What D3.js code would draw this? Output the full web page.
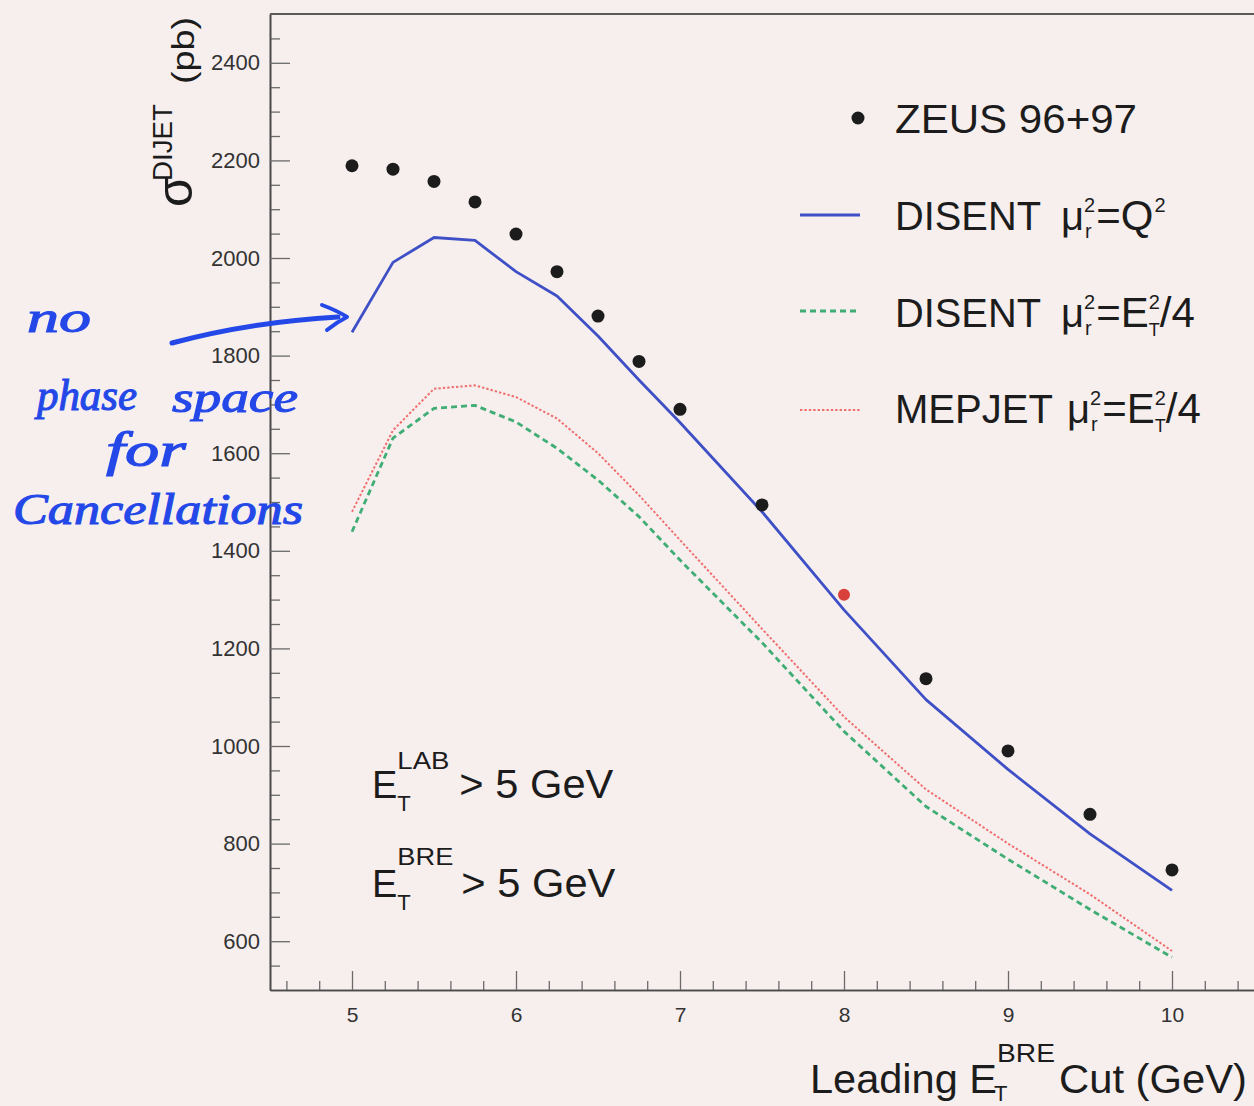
<!DOCTYPE html>
<html>
<head>
<meta charset="utf-8">
<script src="https://cdn.jsdelivr.net/npm/d3@7"></script>
<style>
  html, body { margin: 0; padding: 0; background: #f7efee; }
  svg { display: block; }
</style>
</head>
<body>
<script>
// ---------------- data ----------------
const etCuts    = [5, 5.25, 5.5, 5.75, 6, 6.25, 6.5, 6.75, 7, 7.5, 8, 8.5, 9, 9.5, 10];
const zeus9697  = [2189, 2182, 2157, 2115, 2049, 1972, 1881, 1788, 1690, 1494, 1310, 1138, 990, 860, 746];
const disentQ2  = [1848, 1991, 2042, 2036, 1972, 1922, 1840, 1750, 1663, 1480, 1279, 1095, 952, 820, 704];
const disentEt4 = [1439, 1631, 1692, 1698, 1664, 1610, 1545, 1470, 1381, 1212, 1030, 876, 768, 665, 567];
const mepjetEt4 = [1480, 1647, 1732, 1739, 1715, 1671, 1600, 1514, 1422, 1240, 1060, 911, 800, 696, 580];
const highlightCut = 8;
const xMajorTicks = [5, 6, 7, 8, 9, 10];
const yMajorTicks = [600, 800, 1000, 1200, 1400, 1600, 1800, 2000, 2200, 2400];

const SANS = "'Liberation Sans', Arial, Helvetica, sans-serif";
const W = 1254, H = 1106;
const svg = d3.select("body").append("svg").attr("width", W).attr("height", H)
  .style("font-family", SANS);
svg.append("rect").attr("width", W).attr("height", H).attr("fill", "#f7efee");

const x = d3.scaleLinear().domain([4.5, 10.5]).range([270, 1254]);
const y = d3.scaleLinear().domain([500, 2500]).range([990, 14]);

// ---------------- axes ----------------
const axisColor = "#4a4a4a";
const xMinor = d3.range(4.6, 10.5, 0.2).filter(v => Math.abs(v - Math.round(v)) > 0.01);
const yMinor = d3.range(550, 2500, 50).filter(v => v % 200 !== 0);
const fmt = d3.format("d");

const gxMinor = svg.append("g").attr("transform", "translate(0,990)")
  .call(d3.axisBottom(x).tickValues(xMinor).tickSize(-9).tickSizeOuter(0).tickFormat(""));
const gx = svg.append("g").attr("transform", "translate(0,990)")
  .call(d3.axisBottom(x).tickValues(xMajorTicks).tickFormat(fmt).tickSize(-19).tickSizeOuter(0).tickPadding(14));
gx.selectAll("text").attr("font-size", 21).attr("fill", "#333").attr("dy", "0.85em");

const gyMinor = svg.append("g").attr("transform", "translate(270,0)")
  .call(d3.axisLeft(y).tickValues(yMinor).tickSize(-10).tickSizeOuter(0).tickFormat(""));
const gy = svg.append("g").attr("transform", "translate(270,0)")
  .call(d3.axisLeft(y).tickValues(yMajorTicks).tickFormat(fmt).tickSize(-20).tickSizeOuter(0).tickPadding(10));
gy.selectAll("text").attr("font-size", 22).attr("fill", "#333");

[gx, gxMinor, gy, gyMinor].forEach(g => {
  g.attr("font-family", null);
  g.selectAll("path.domain").attr("stroke", axisColor).attr("stroke-width", 1.6);
  g.selectAll(".tick line").attr("stroke", "#6a6a6a").attr("stroke-width", 1.3);
});
svg.append("line").attr("x1", x(4.5)).attr("x2", x(10.5)).attr("y1", y(2500)).attr("y2", y(2500))
  .attr("stroke", "#5a5a5a").attr("stroke-width", 2);

// ---------------- curves ----------------
const styles = {
  q2:  { color: "#3f50c6", width: 2.8, dash: null },
  et:  { color: "#3fad74", width: 2.8, dash: "6,4" },
  mep: { color: "#ef6f6f", width: 2.0, dash: "2.4,2" }
};
const line = d3.line().x((d, i) => x(etCuts[i])).y(d => y(d)).curve(d3.curveLinear);
function drawCurve(vals, st) {
  svg.append("path").datum(vals).attr("d", line)
    .attr("fill", "none").attr("stroke", st.color).attr("stroke-width", st.width)
    .attr("stroke-dasharray", st.dash).attr("stroke-linejoin", "round");
}
drawCurve(mepjetEt4, styles.mep);
drawCurve(disentEt4, styles.et);
drawCurve(disentQ2, styles.q2);

svg.append("g").selectAll("circle").data(zeus9697).join("circle")
  .attr("cx", (d, i) => x(etCuts[i])).attr("cy", d => y(d))
  .attr("r", (d, i) => etCuts[i] === highlightCut ? 6 : 6.5)
  .attr("fill", (d, i) => etCuts[i] === highlightCut ? "#d8403c" : "#1c1c1c");

// ---------------- rich text helper ----------------
// parts: {t, fs, dy, stack, w (textLength), gap (dx before)}
function rich(x0, y0, parts, color) {
  const g = svg.append("g");
  let cx = x0, prevX = x0;
  parts.forEach(p => {
    const px = p.stack ? prevX + (p.sx || 0) : cx + (p.gap || 0);
    const t = g.append("text").attr("x", px).attr("y", y0 + (p.dy || 0))
      .attr("font-size", p.fs).attr("fill", color || "#1c1c1c").text(p.t);
    if (p.w) t.attr("textLength", p.w).attr("lengthAdjust", "spacingAndGlyphs");
    const w = p.w || t.node().getComputedTextLength();
    if (p.stack) { cx = Math.max(cx, px + w); }
    else { prevX = px; cx = px + w; }
  });
  return g;
}

// ---------------- legend ----------------
svg.append("circle").attr("cx", 858).attr("cy", 118).attr("r", 6.5).attr("fill", "#1c1c1c");
rich(895, 133, [{ t: "ZEUS 96+97", fs: 41, w: 242 }]);

svg.append("line").attr("x1", 800).attr("x2", 860).attr("y1", 215).attr("y2", 215)
  .attr("stroke", styles.q2.color).attr("stroke-width", styles.q2.width);
rich(895, 230, [
  { t: "DISENT", fs: 40, w: 146 },
  { t: "\u03bc", fs: 40, gap: 20 },
  { t: "2", fs: 20, dy: -18 }, { t: "r", fs: 20, dy: 8, stack: true, sx: 1 },
  { t: "=Q", fs: 42, gap: 1 },
  { t: "2", fs: 20, dy: -18, gap: 1 }
]);

svg.append("line").attr("x1", 800).attr("x2", 860).attr("y1", 311).attr("y2", 311)
  .attr("stroke", styles.et.color).attr("stroke-width", styles.et.width).attr("stroke-dasharray", styles.et.dash);
rich(895, 327, [
  { t: "DISENT", fs: 40, w: 146 },
  { t: "\u03bc", fs: 40, gap: 20 },
  { t: "2", fs: 20, dy: -18 }, { t: "r", fs: 20, dy: 8, stack: true, sx: 1 },
  { t: "=E", fs: 42, gap: 1 },
  { t: "2", fs: 20, dy: -18 }, { t: "T", fs: 18, dy: 9, stack: true },
  { t: "/4", fs: 42 }
]);

svg.append("line").attr("x1", 800).attr("x2", 860).attr("y1", 410).attr("y2", 410)
  .attr("stroke", styles.mep.color).attr("stroke-width", styles.mep.width).attr("stroke-dasharray", styles.mep.dash);
rich(895, 423, [
  { t: "MEPJET", fs: 40, w: 158 },
  { t: "\u03bc", fs: 40, gap: 14 },
  { t: "2", fs: 20, dy: -18 }, { t: "r", fs: 20, dy: 8, stack: true, sx: 1 },
  { t: "=E", fs: 42, gap: 1 },
  { t: "2", fs: 20, dy: -18 }, { t: "T", fs: 18, dy: 9, stack: true },
  { t: "/4", fs: 42 }
]);

// ---------------- cut annotations ----------------
rich(372, 798, [
  { t: "E", fs: 38 },
  { t: "LAB", fs: 24, dy: -29, w: 52, sx: 4 }, { t: "T", fs: 22, dy: 13, stack: true },
  { t: "> 5 GeV", fs: 40, w: 154, gap: 10 }
]);
rich(372, 897, [
  { t: "E", fs: 38 },
  { t: "BRE", fs: 24, dy: -32, w: 56, sx: 4 }, { t: "T", fs: 22, dy: 13, stack: true },
  { t: "> 5 GeV", fs: 40, w: 154, gap: 8 }
]);

// ---------------- axis titles ----------------
rich(810, 1093, [
  { t: "Leading E", fs: 40, w: 187 },
  { t: "BRE", fs: 26, dy: -31, w: 58, sx: 3 }, { t: "T", fs: 22, dy: 8, stack: true, sx: -3 },
  { t: "Cut (GeV)", fs: 40, w: 188, gap: 4 }
]);

const gyl = svg.append("g").attr("transform", "rotate(-90)");
gyl.append("text").attr("x", -207).attr("y", 192).attr("font-size", 50).attr("fill", "#1c1c1c").text("\u03c3");
gyl.append("text").attr("x", -181).attr("y", 172).attr("font-size", 27).attr("fill", "#1c1c1c")
  .attr("textLength", 77).attr("lengthAdjust", "spacingAndGlyphs").text("DIJET");
gyl.append("text").attr("x", -84).attr("y", 194).attr("font-size", 32).attr("fill", "#1c1c1c")
  .attr("textLength", 67).attr("lengthAdjust", "spacingAndGlyphs").text("(pb)");

// ---------------- handwritten note ----------------
const inkColor = "#2448e8";
const note = svg.append("g");
[
  { t: "no",            x: 27,  y: 332, w: 64,  fs: 44 },
  { t: "phase",         x: 37,  y: 410, w: 100, fs: 44 },
  { t: "space",         x: 172, y: 412, w: 126, fs: 44 },
  { t: "for",           x: 106, y: 466, w: 80,  fs: 48 },
  { t: "Cancellations", x: 13,  y: 524, w: 290, fs: 44 }
].forEach(d => {
  note.append("text").attr("x", d.x).attr("y", d.y)
    .style("font-family", "'Liberation Serif', 'DejaVu Serif', serif").style("font-style", "italic")
    .attr("font-size", d.fs).attr("fill", inkColor).attr("stroke", inkColor).attr("stroke-width", 1.1)
    .attr("textLength", d.w).attr("lengthAdjust", "spacingAndGlyphs").text(d.t);
});
svg.append("path").attr("d", "M172,343 Q250,322 338,317")
  .attr("fill", "none").attr("stroke", inkColor).attr("stroke-width", 5).attr("stroke-linecap", "round");
svg.append("path").attr("d", "M322,305 Q338,311 347,317 Q337,322 327,330")
  .attr("fill", "none").attr("stroke", inkColor).attr("stroke-width", 4).attr("stroke-linecap", "round").attr("stroke-linejoin", "round");
</script>
</body>
</html>
